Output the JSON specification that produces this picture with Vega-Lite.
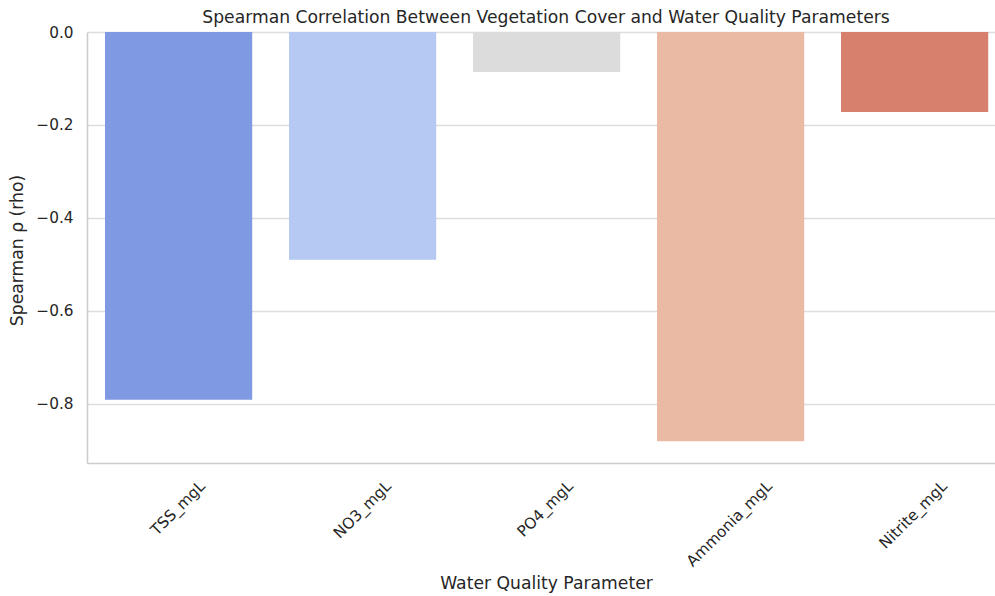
{
  "$schema": "https://vega.github.io/schema/vega-lite/v6.json",
  "width": 908,
  "height": 431,
  "autosize": {"type": "none"},
  "padding": {"left": 87, "top": 32, "right": 0, "bottom": 133},
  "background": "white",
  "config": {
    "view": {"stroke": null},
    "font": "DejaVu Sans",
    "title": {"font": "DejaVu Sans", "fontSize": 17.2, "fontWeight": "normal", "color": "#262626"},
    "axis": {"labelFont": "DejaVu Sans", "titleFont": "DejaVu Sans", "labelColor": "#262626", "titleColor": "#262626", "titleFontWeight": "normal"}
  },
  "title": {"text": "Spearman Correlation Between Vegetation Cover and Water Quality Parameters", "anchor": "middle", "offset": -1, "dx": 5},
  "data": {
    "values": [
      {"parameter": "TSS_mgL", "rho": -0.791},
      {"parameter": "NO3_mgL", "rho": -0.490},
      {"parameter": "PO4_mgL", "rho": -0.086},
      {"parameter": "Ammonia_mgL", "rho": -0.880},
      {"parameter": "Nitrite_mgL", "rho": -0.172}
    ]
  },
  "mark": {"type": "bar"},
  "encoding": {
    "x": {
      "field": "parameter",
      "type": "nominal",
      "sort": null,
      "scale": {"paddingInner": 0.2, "paddingOuter": 0.0674, "align": 0.726},
      "axis": {
        "title": "Water Quality Parameter",
        "titleFontSize": 17.2,
        "titleX": 459,
        "titleY": 125,
        "titleBaseline": "alphabetic",
        "titleAlign": "center",
        "labelFontSize": 15.3,
        "labelAngle": -45,
        "labelAlign": "right",
        "labelBaseline": "middle",
        "labelPadding": 20,
        "labelOffset": {
          "condition": [
            {"test": "datum.value == 'Ammonia_mgL'", "value": 39},
            {"test": "datum.value == 'Nitrite_mgL'", "value": 30},
            {"test": "datum.value == 'NO3_mgL'", "value": 26}
          ],
          "value": 24
        },
        "ticks": false,
        "tickSize": 0,
        "grid": false,
        "domain": true,
        "domainColor": "#cccccc",
        "domainWidth": 1.5
      }
    },
    "y": {
      "field": "rho",
      "type": "quantitative",
      "scale": {"domain": [-0.927, 0], "nice": false, "zero": false},
      "axis": {
        "title": "Spearman ρ (rho)",
        "titleFontSize": 17.2,
        "titleX": -65,
        "titleY": 218,
        "titleBaseline": "alphabetic",
        "titleAlign": "center",
        "values": [-0.8, -0.6, -0.4, -0.2, 0],
        "format": ".1f",
        "labelFontSize": 15.3,
        "labelPadding": 14,
        "ticks": false,
        "tickSize": 0,
        "grid": true,
        "gridColor": "#dddddd",
        "gridWidth": 1.3,
        "domain": true,
        "domainColor": "#cccccc",
        "domainWidth": 1.5
      }
    },
    "color": {
      "field": "parameter",
      "type": "nominal",
      "sort": null,
      "scale": {
        "domain": ["TSS_mgL", "NO3_mgL", "PO4_mgL", "Ammonia_mgL", "Nitrite_mgL"],
        "range": ["#7f9ae2", "#b5c9f3", "#dcdcdc", "#ebbaa4", "#d6806d"]
      },
      "legend": null
    }
  }
}
